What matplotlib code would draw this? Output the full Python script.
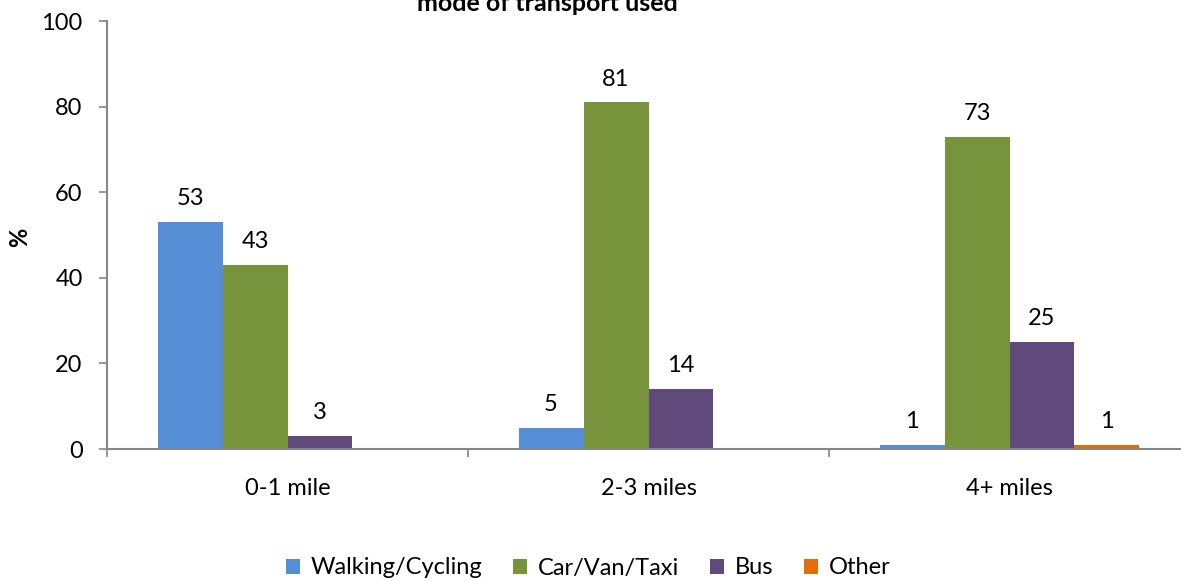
import matplotlib
matplotlib.use("Agg")
import matplotlib.pyplot as plt
import numpy as np

categories = ["0-1 mile", "2-3 miles", "4+ miles"]
series_names = ["Walking/Cycling", "Car/Van/Taxi", "Bus", "Other"]
walking = [53, 5, 1]
car = [43, 81, 73]
bus = [3, 14, 25]
other = [0, 0, 1]
colors = ["#558ED5", "#77933C", "#604A7B", "#E46C0A"]
yticks = [0, 20, 40, 60, 80, 100]

plt.rcParams['font.family'] = ['Lato', 'DejaVu Sans']
FS = 17

fig = plt.figure(figsize=(11.81, 5.81), dpi=100)
ax = fig.add_axes([107/1181, 1 - 449/581, 1083/1181, (449-21)/581])

x = np.arange(len(categories))
bw = 0.18
data = [walking, car, bus, other]
for i, (vals, name, col) in enumerate(zip(data, series_names, colors)):
    pos = x - 1.5*bw + i*bw
    ax.bar(pos, vals, width=bw, color=col, label=name, zorder=2)
    for p, v in zip(pos, vals):
        if v > 0:
            ax.annotate(str(v), (p, v), xytext=(0, 12), textcoords="offset points",
                        ha="center", va="baseline", fontsize=FS, color="black")

ax.set_xlim(-0.5, len(categories) - 0.5)
ax.set_ylim(0, 100)
ax.set_yticks(yticks)
ax.set_xticks(x)
ax.set_xticklabels(categories)
ax.set_xticks(np.arange(len(categories)+1) - 0.5, minor=True)
ax.tick_params(axis='x', which='major', length=0, pad=21, labelsize=FS)
ax.tick_params(axis='x', which='minor', length=6, width=1.2, color="#868686")
ax.tick_params(axis='y', length=6, width=1.2, color="#868686", labelsize=FS, pad=11.5)

for s in ["top", "right"]:
    ax.spines[s].set_visible(False)
for s in ["left", "bottom"]:
    ax.spines[s].set_color("#868686")
    ax.spines[s].set_linewidth(1.5)

fig.text(20/1181, 1 - 237/581, "%", rotation=90, ha="center", va="center",
         fontsize=FS, fontweight="bold")
fig.text(547/1181, 1 - 11/581, "mode of transport used", ha="center", va="baseline",
         fontsize=18, fontweight="bold")

fig.legend(loc="center", bbox_to_anchor=(588/1181, 1 - 568/581), ncol=4,
           frameon=False, fontsize=FS, handlelength=0.6, handleheight=0.6,
           handletextpad=0.45, columnspacing=1.3)

fig.savefig("out.png", dpi=100)
